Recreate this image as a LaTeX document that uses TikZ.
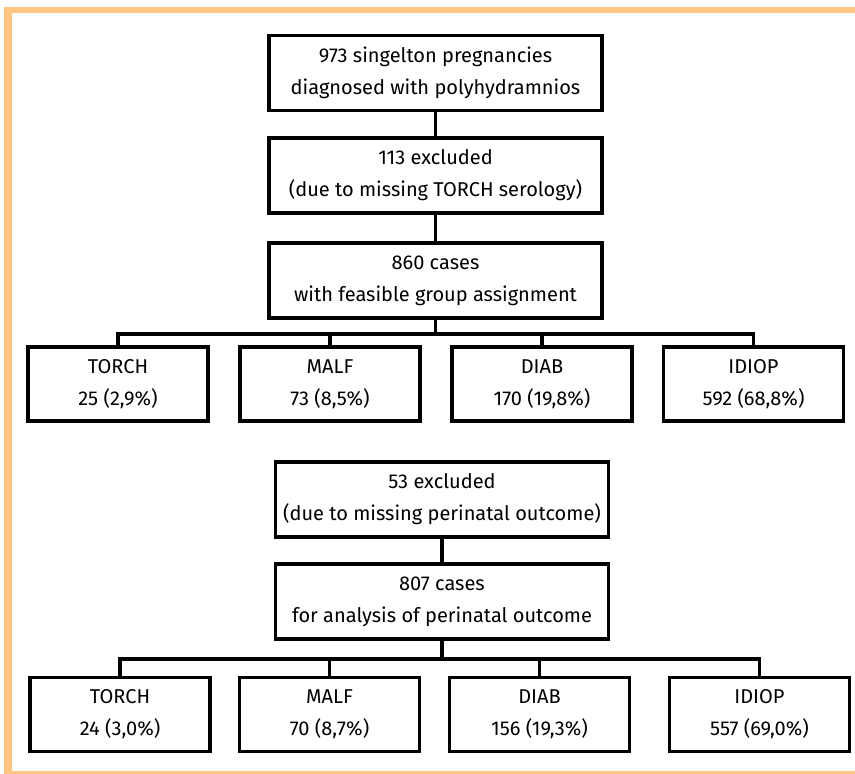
\documentclass[tikz,border=0pt]{standalone}
\usepackage{fontspec}
\setmainfont{Fira Sans}
\usepackage{xcolor}
\usepackage{tikz}
\usetikzlibrary{positioning,calc}
\definecolor{frameorange}{RGB}{255,198,130}

\begin{document}
\begin{tikzpicture}[x=1pt,y=-1pt,
    box/.style={draw, line width=3.5pt, align=center, inner sep=0pt,
        minimum width=333pt, minimum height=75pt,
        font=\fontsize{20}{32}\selectfont},
    group/.style={box, minimum width=180pt, minimum height=74pt},
    link/.style={line width=3.8pt}]
    \useasboundingbox (0,0) rectangle (855,774);

    % Frame
    \draw[frameorange, line width=6.5pt] (4,10) -- (855,10);
    \draw[frameorange, line width=8pt] (8,6.75) -- (8,774);
    \draw[frameorange, line width=4pt] (4,773) -- (855,773);

    % Upper part
    \node[box] (preg) at (435.5,73) {973 singelton pregnancies\\diagnosed with polyhydramnios};
    \node[box] (excl1) at (435.5,175.5) {113 excluded\\(due to missing TORCH serology)};
    \node[box] (cases1) at (435.5,280.5) {860 cases\\ with feasible group assignment};

    \node[group] (torch1) at (118,384) {TORCH\\25 (2,9\%)};
    \node[group] (malf1) at (330,384) {MALF\\73 (8,5\%)};
    \node[group] (diab1) at (542,384) {DIAB\\170 (19,8\%)};
    \node[group] (idiop1) at (753.5,384) {IDIOP\\592 (68,8\%)};

    \draw[link] (preg) -- (excl1);
    \draw[link] (excl1) -- (cases1);
    \foreach \g in {torch1,malf1,diab1,idiop1}
        \draw[link] (cases1.south) -- ++(0,14) -| (\g.north);

    % Lower part
    \node[box] (excl2) at (442,499.5) {53 excluded\\(due to missing perinatal outcome)};
    \node[box] (cases2) at (442,601.5) {807 cases\\for analysis of perinatal outcome};

    \node[group] (torch2) at (120,714.5) {TORCH\\24 (3,0\%)};
    \node[group] (malf2) at (329.5,714.5) {MALF\\70 (8,7\%)};
    \node[group] (diab2) at (539.5,714.5) {DIAB\\156 (19,3\%)};
    \node[group] (idiop2) at (759.5,714.5) {IDIOP\\557 (69,0\%)};

    \draw[link] (excl2) -- (cases2);
    \foreach \g in {torch2,malf2,diab2,idiop2}
        \draw[link] (cases2.south) -- ++(0,18) -| (\g.north);
\end{tikzpicture}
\end{document}
